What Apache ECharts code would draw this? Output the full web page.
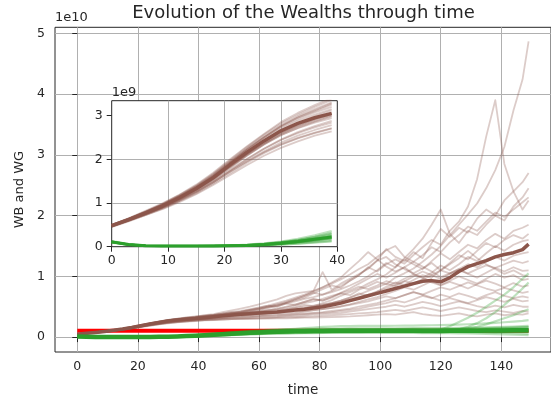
<!DOCTYPE html>
<html>
<head>
<meta charset="utf-8">
<script src="https://cdn.jsdelivr.net/npm/echarts@6/dist/echarts.min.js"></script>
<style>
  html, body { margin: 0; padding: 0; background: #fff; }
  #chart { width: 551px; height: 402px; }
</style>
</head>
<body>
<div id="chart"></div>
<script>
// Sample times shared by every run
const times = [0,3,6,9,12,15,18,21,24,27,30,33,36,39,
  42,45,48,51,54,57,60,63,66,69,72,75,78,81,
  84,87,90,93,96,99,102,105,108,111,114,117,120,123,
  126,129,132,135,138,141,144,147,149];

// WB runs, values in units of 1e9
const wb01 = [0.49,0.64,0.80,0.97,1.16,1.38,1.64,1.95,2.25,2.52,2.78,2.98,3.15,3.3,
  3.5,3.6,3.9,4.1,4.0,4.3,4.6,4.9,5.1,5.5,5.3,5.8,6.2,6.0,
  6.5,7.2,6.9,7.8,8.4,9.1,8.7,9.8,10.5,11.3,12.4,13.6,15.0,16.8,
  18.5,20.2,22.0,24.5,27.5,31.3,37.3,42.4,48.7];
const wb02 = [0.47,0.61,0.76,0.92,1.10,1.31,1.55,1.84,2.12,2.38,2.60,2.78,2.92,3.02,
  3.2,3.4,3.6,3.9,4.2,4.5,4.8,5.2,5.0,5.6,6.1,6.5,7.2,7.9,
  8.5,8.1,9.3,10.2,11.5,10.8,12.0,12.8,12.1,13.5,14.8,16.0,15.2,17.5,
  19.0,21.5,26.0,33.0,39.0,28.5,24.0,21.0,22.5];
const wb03 = [0.50,0.65,0.81,0.98,1.18,1.40,1.67,1.98,2.28,2.56,2.82,3.02,3.2,3.36,
  3.6,3.8,4.1,4.4,4.7,5.0,5.4,5.8,6.2,6.8,7.2,7.4,7.6,10.7,
  7.8,8.8,9.6,10.4,11.2,12.6,14.5,13.2,12.5,14.0,13.0,15.5,17.8,16.5,
  18.0,17.2,19.5,21.0,20.0,22.5,24.0,25.5,27.0];
const wb04 = [0.49,0.63,0.79,0.95,1.14,1.36,1.62,1.92,2.22,2.5,2.75,2.95,3.1,3.25,
  3.45,3.6,3.8,4.0,4.2,4.5,4.7,5.0,5.3,5.6,5.9,6.3,6.6,7.0,
  7.4,7.9,8.5,9.2,10.0,11.0,12.2,11.5,13.0,14.5,16.2,18.5,21.0,17.0,
  15.5,17.5,16.8,18.5,20.0,19.2,21.5,23.0,24.5];
const wb05 = [0.48,0.62,0.78,0.94,1.13,1.35,1.61,1.92,2.22,2.5,2.76,2.96,3.12,3.28,
  3.45,3.65,3.85,4.1,4.3,4.6,4.9,5.2,5.6,6.0,6.5,7.0,7.6,8.2,
  8.8,9.5,10.3,11.2,12.0,13.2,14.3,15.0,13.2,12.4,13.5,14.8,14.0,15.6,
  16.8,18.2,17.5,19.0,20.5,19.8,21.0,22.2,23.0];
const wb06 = [0.47,0.6,0.75,0.9,1.08,1.28,1.52,1.8,2.08,2.34,2.55,2.72,2.86,2.98,
  3.1,3.25,3.4,3.6,3.7,3.9,4.1,4.0,4.3,4.6,4.9,5.3,5.1,5.6,
  6.1,6.8,7.4,8.0,8.8,9.5,10.3,11.5,12.8,12.0,11.2,12.5,13.8,12.8,
  14.0,15.2,14.6,16.0,17.0,16.2,17.5,18.0,18.5];
const wb07 = [0.5,0.64,0.8,0.96,1.15,1.36,1.6,1.88,2.15,2.4,2.62,2.8,2.94,3.06,
  3.2,3.3,3.45,3.6,3.7,3.8,3.9,4.0,4.2,4.3,4.5,4.7,4.9,5.2,
  5.6,6.0,6.5,7.2,6.8,7.5,8.3,9.0,8.6,9.4,10.2,9.8,11.0,12.2,
  13.5,12.8,14.2,15.5,14.8,16.0,16.8,16.2,17.0];
const wb08 = [0.48,0.62,0.77,0.93,1.11,1.31,1.55,1.84,2.12,2.37,2.58,2.75,2.88,3.0,
  3.15,3.3,3.5,3.7,3.9,4.2,4.5,4.8,5.2,5.7,6.2,6.8,7.5,8.2,
  9.0,9.8,11.2,12.5,14.0,12.8,11.6,10.8,11.5,10.4,9.8,10.6,11.8,11.0,
  12.0,13.2,12.5,13.8,15.0,14.2,15.2,15.8,16.0];
const wb09 = [0.46,0.59,0.73,0.88,1.05,1.24,1.47,1.74,2.0,2.24,2.45,2.62,2.76,2.88,
  3.0,3.15,3.3,3.45,3.55,3.7,3.8,3.95,4.1,4.3,4.5,4.75,5.0,5.3,
  5.6,6.0,6.5,7.0,7.6,8.2,8.8,8.4,9.2,10.0,10.8,10.2,11.0,10.5,
  11.2,12.0,11.5,12.4,13.2,12.6,13.4,13.8,14.0];
const wb10 = [0.5,0.65,0.82,0.99,1.19,1.42,1.69,2.0,2.3,2.58,2.85,3.06,3.24,3.4,
  3.55,3.65,3.8,3.9,4.0,4.1,4.2,4.35,4.5,4.6,4.8,5.0,5.2,5.4,
  5.6,5.9,6.2,6.6,7.0,7.5,8.0,8.6,9.2,8.8,9.5,10.2,9.6,10.4,
  11.0,10.5,11.2,11.8,11.4,12.0,12.6,12.2,12.5];
const wb11 = [0.47,0.61,0.76,0.92,1.1,1.31,1.56,1.86,2.14,2.4,2.64,2.83,2.98,3.12,
  3.3,3.45,3.6,3.8,3.95,4.1,4.3,4.5,4.7,5.0,5.4,5.8,6.3,6.0,
  6.6,7.3,8.0,8.8,9.6,10.4,9.8,10.6,11.5,12.4,11.6,10.8,9.9,10.5,
  11.2,10.4,9.8,10.6,11.4,10.8,11.5,10.9,11.0];
const wb12 = [0.49,0.63,0.78,0.94,1.12,1.32,1.56,1.83,2.1,2.34,2.55,2.71,2.84,2.94,
  3.05,3.15,3.25,3.35,3.45,3.5,3.6,3.7,3.8,3.9,4.0,4.2,4.4,4.6,
  4.8,5.1,5.4,5.8,6.2,6.6,7.1,7.6,8.2,7.8,8.5,9.2,8.6,9.3,
  10.0,9.4,8.8,9.6,10.4,9.8,10.2,9.4,9.6];
const wb13 = [0.46,0.6,0.75,0.9,1.08,1.29,1.53,1.82,2.09,2.35,2.58,2.76,2.91,3.04,
  3.2,3.35,3.5,3.7,3.85,4.0,4.2,4.4,4.6,4.9,5.2,5.6,5.9,6.3,
  6.8,7.2,7.7,8.3,7.9,8.5,9.2,8.8,9.6,10.3,9.8,9.0,8.5,9.1,
  8.6,8.0,8.7,9.3,8.8,8.2,8.9,8.3,8.5];
const wb14 = [0.48,0.61,0.76,0.91,1.08,1.27,1.5,1.76,2.01,2.24,2.44,2.6,2.73,2.84,
  2.95,3.05,3.15,3.25,3.3,3.4,3.45,3.55,3.6,3.7,3.8,3.9,4.0,4.1,
  4.3,4.5,4.7,5.0,5.3,5.6,6.0,6.4,6.9,7.4,7.0,7.6,8.2,7.8,
  8.4,9.0,8.5,8.0,7.6,8.1,7.7,7.3,7.5];
const wb15 = [0.47,0.6,0.74,0.89,1.06,1.25,1.47,1.72,1.96,2.18,2.38,2.54,2.67,2.78,
  2.9,3.0,3.1,3.2,3.25,3.3,3.4,3.45,3.5,3.6,3.7,3.8,3.9,4.0,
  4.1,4.3,4.5,4.7,5.0,5.3,5.6,6.0,5.7,6.2,6.8,6.4,7.0,6.6,
  7.2,6.8,6.3,6.9,7.4,6.8,6.4,6.7,6.5];
const wb16 = [0.5,0.64,0.79,0.96,1.15,1.37,1.63,1.93,2.21,2.46,2.7,2.88,3.02,3.15,
  3.3,3.4,3.5,3.6,3.7,3.75,3.8,3.9,4.0,4.1,4.2,4.3,4.45,4.6,
  4.8,5.0,5.3,5.6,5.9,6.3,6.7,6.4,6.9,7.4,7.0,6.5,6.0,6.4,
  6.0,5.6,6.1,6.6,6.2,5.8,6.3,5.9,6.0];
const wb17 = [0.46,0.59,0.73,0.87,1.04,1.22,1.44,1.68,1.92,2.14,2.33,2.48,2.6,2.7,
  2.8,2.9,3.0,3.05,3.1,3.15,3.2,3.25,3.3,3.4,3.5,3.6,3.7,3.8,
  3.9,4.0,4.2,4.4,4.6,4.8,5.0,5.3,5.0,5.4,5.8,5.5,5.1,5.5,
  5.9,5.5,5.1,4.8,5.2,4.9,5.3,5.0,5.0];
const wb18 = [0.45,0.58,0.72,0.86,1.02,1.2,1.41,1.64,1.87,2.08,2.26,2.41,2.54,2.64,
  2.74,2.82,2.9,2.95,3.0,3.05,3.1,3.15,3.2,3.25,3.3,3.35,3.4,3.5,
  3.6,3.7,3.8,3.9,4.0,4.1,4.3,4.5,4.3,4.6,4.9,4.6,4.3,4.6,
  4.9,4.6,4.3,4.1,4.4,4.2,4.0,4.3,4.2];
const wb19 = [0.47,0.6,0.75,0.9,1.07,1.26,1.48,1.72,1.95,2.16,2.34,2.49,2.61,2.71,
  2.8,2.85,2.9,2.95,3.0,3.0,3.05,3.05,3.1,3.1,3.15,3.2,3.2,3.25,
  3.3,3.35,3.4,3.5,3.6,3.7,3.8,3.7,3.9,4.1,3.8,3.6,3.5,3.7,
  3.9,3.6,3.4,3.7,3.9,3.6,3.8,3.7,3.9];
const wb20 = [0.49,0.64,0.8,0.97,1.17,1.39,1.65,1.95,2.24,2.5,2.74,2.92,3.07,3.2,
  3.35,3.5,3.7,3.9,4.1,4.4,4.7,5.0,5.4,5.8,6.3,6.8,7.3,7.0,
  7.6,8.4,9.3,10.2,11.4,12.6,13.2,12.0,11.2,10.5,11.3,12.2,11.0,12.0,
  13.0,14.2,13.0,12.0,11.2,10.4,11.0,10.2,10.0];
const wbMean = [0.48,0.62,0.77,0.93,1.12,1.33,1.58,1.88,2.16,2.42,2.65,2.82,2.95,3.05,
  3.2,3.35,3.5,3.65,3.75,3.85,3.95,4.05,4.15,4.3,4.45,4.6,4.8,5.0,
  5.3,5.6,6.0,6.4,6.8,7.2,7.6,8.0,8.4,8.8,9.2,9.3,9.1,9.8,
  10.8,11.6,12.1,12.6,13.2,13.6,13.9,14.4,15.3];

// WG runs, values in units of 1e9
const wg01 = [0.12,0.05,0.02,0.01,0.01,0.01,0.01,0.015,0.02,0.03,0.05,0.07,0.1,0.13,
  0.18,0.24,0.3,0.36,0.42,0.48,0.53,0.57,0.6,0.62,0.64,0.66,0.67,0.68,
  0.69,0.7,0.7,0.71,0.71,0.7,0.7,0.69,0.68,0.68,0.67,0.66,0.65,0.64,
  0.62,0.6,0.57,0.54,0.5,0.46,0.42,0.36,0.32];
const wg02 = [0.1,0.05,0.02,0.015,0.015,0.015,0.02,0.025,0.04,0.06,0.1,0.15,0.22,0.3,
  0.4,0.5,0.6,0.7,0.8,0.88,0.95,1.02,1.08,1.12,1.15,1.18,1.2,1.22,
  1.23,1.24,1.25,1.26,1.26,1.27,1.27,1.28,1.28,1.29,1.3,1.3,1.31,1.32,
  1.34,1.36,1.38,1.41,1.44,1.48,1.52,1.58,1.62];
const wg03 = [0.11,0.04,0.02,0.015,0.015,0.015,0.015,0.02,0.03,0.04,0.07,0.1,0.14,0.19,
  0.26,0.33,0.4,0.48,0.56,0.62,0.68,0.74,0.79,0.83,0.86,0.89,0.91,0.93,
  0.94,0.95,0.96,0.96,0.96,0.95,0.95,0.94,0.94,0.93,0.93,0.92,0.92,0.92,
  0.93,0.93,0.94,0.95,0.96,0.97,0.98,1.0,1.01];
const wg04 = [0.13,0.06,0.03,0.02,0.02,0.02,0.02,0.03,0.05,0.08,0.12,0.18,0.26,0.36,
  0.48,0.6,0.72,0.84,0.95,1.05,1.13,1.2,1.26,1.3,1.33,1.36,1.38,1.4,
  1.41,1.42,1.43,1.44,1.44,1.45,1.45,1.46,1.46,1.47,1.47,1.48,1.49,1.5,
  1.52,1.55,1.58,1.62,1.66,1.7,1.74,1.8,1.85];
const wg05 = [0.09,0.04,0.02,0.01,0.01,0.01,0.01,0.015,0.02,0.03,0.045,0.065,0.09,0.12,
  0.16,0.21,0.27,0.33,0.39,0.45,0.5,0.55,0.59,0.62,0.65,0.68,0.7,0.72,
  0.74,0.76,0.78,0.79,0.8,0.81,0.82,0.82,0.83,0.83,0.84,0.84,0.85,0.85,
  0.86,0.86,0.87,0.88,0.88,0.89,0.9,0.9,0.91];
const wg06 = [0.12,0.05,0.025,0.02,0.02,0.02,0.02,0.025,0.035,0.055,0.09,0.13,0.19,0.26,
  0.34,0.43,0.52,0.61,0.69,0.77,0.84,0.9,0.95,0.99,1.02,1.05,1.08,1.1,
  1.12,1.13,1.14,1.15,1.15,1.16,1.16,1.16,1.16,1.17,1.17,1.17,1.18,1.19,
  1.2,1.22,1.24,1.26,1.29,1.32,1.35,1.39,1.42];
const wg07 = [0.1,0.04,0.02,0.015,0.015,0.015,0.015,0.02,0.025,0.04,0.06,0.09,0.12,0.16,
  0.22,0.28,0.35,0.42,0.49,0.56,0.62,0.67,0.72,0.76,0.8,0.83,0.85,0.87,
  0.88,0.89,0.9,0.9,0.9,0.9,0.89,0.88,0.87,0.86,0.85,0.84,0.83,0.82,
  0.8,0.78,0.76,0.74,0.71,0.68,0.65,0.61,0.58];
const wg08 = [0.11,0.05,0.02,0.015,0.015,0.015,0.02,0.025,0.035,0.05,0.085,0.13,0.18,0.24,
  0.32,0.41,0.5,0.59,0.67,0.74,0.8,0.86,0.91,0.95,0.98,1.01,1.03,1.05,
  1.06,1.07,1.08,1.08,1.09,1.09,1.09,1.09,1.09,1.1,1.1,1.1,1.11,1.12,
  1.13,1.14,1.16,1.18,1.2,1.23,1.26,1.3,1.33];
const wg09 = [0.12,0.05,0.02,0.015,0.015,0.015,0.015,0.02,0.03,0.045,0.075,0.11,0.16,0.21,
  0.28,0.36,0.44,0.52,0.6,0.67,0.73,0.79,0.84,0.88,0.91,0.94,0.96,0.98,
  0.99,1.0,1.01,1.01,1.01,1.01,1.0,1.0,0.99,0.99,0.98,0.98,0.97,0.97,
  0.96,0.95,0.94,0.93,0.92,0.9,0.88,0.86,0.84];
const wg10 = [0.1,0.05,0.02,0.015,0.015,0.015,0.02,0.03,0.045,0.07,0.11,0.16,0.23,0.32,
  0.43,0.54,0.65,0.76,0.86,0.95,1.03,1.1,1.15,1.19,1.22,1.25,1.27,1.29,
  1.3,1.31,1.32,1.32,1.33,1.33,1.34,1.34,1.35,1.35,1.36,1.36,1.37,1.38,
  1.4,1.42,1.45,1.48,1.52,1.56,1.6,1.65,1.7];
const wg11 = [0.11,0.05,0.02,0.015,0.015,0.015,0.02,0.025,0.035,0.055,0.09,0.13,0.18,0.24,
  0.32,0.41,0.5,0.59,0.68,0.76,0.83,0.89,0.94,0.98,1.02,1.05,1.08,1.1,
  1.12,1.14,1.15,1.16,1.17,1.18,1.19,1.2,1.2,1.21,1.22,1.22,1.25,1.8,
  2.5,3.2,4.0,5.0,6.0,7.0,8.2,9.6,10.5];
const wg12 = [0.12,0.05,0.02,0.015,0.015,0.015,0.015,0.02,0.03,0.045,0.075,0.11,0.15,0.2,
  0.27,0.35,0.43,0.51,0.59,0.66,0.72,0.78,0.83,0.87,0.9,0.93,0.96,0.98,
  1.0,1.02,1.03,1.04,1.05,1.06,1.07,1.08,1.09,1.1,1.12,1.14,1.16,1.18,
  1.3,1.7,2.3,3.1,4.1,5.3,6.6,8.0,9.0];
const wg13 = [0.1,0.04,0.02,0.015,0.015,0.015,0.015,0.02,0.03,0.045,0.07,0.1,0.14,0.19,
  0.25,0.32,0.4,0.48,0.55,0.62,0.68,0.74,0.79,0.83,0.87,0.9,0.93,0.95,
  0.97,0.99,1.0,1.01,1.02,1.03,1.04,1.05,1.06,1.07,1.09,1.12,1.16,1.22,
  1.3,1.45,1.7,2.1,2.6,3.1,3.6,4.2,4.6];
const wg14 = [0.11,0.05,0.025,0.02,0.02,0.02,0.02,0.025,0.04,0.06,0.1,0.15,0.21,0.28,
  0.37,0.47,0.57,0.67,0.77,0.87,0.97,1.07,1.17,1.27,1.37,1.47,1.57,1.67,
  1.75,1.8,1.82,1.84,1.85,1.86,1.86,1.87,1.88,1.9,1.92,1.95,1.98,2.02,
  2.06,2.12,2.18,2.25,2.35,2.45,2.55,2.68,2.8];
const wgMean = [0.11,0.05,0.02,0.015,0.015,0.015,0.015,0.02,0.03,0.05,0.08,0.12,0.17,0.22,
  0.3,0.38,0.46,0.55,0.63,0.7,0.77,0.83,0.88,0.92,0.95,0.98,1.0,1.02,
  1.03,1.04,1.05,1.05,1.05,1.05,1.04,1.04,1.03,1.03,1.02,1.02,1.02,1.03,
  1.04,1.05,1.06,1.07,1.08,1.1,1.12,1.14,1.15];

// Reference level (1e9)
const refTimes = [0, 149];
const refLevel = [1.05, 1.05];

// Axis ticks
const mainXTicks = [0, 20, 40, 60, 80, 100, 120, 140];
const mainYTicks = [0, 10, 20, 30, 40, 50];
const mainYLabels = ['0', '1', '2', '3', '4', '5'];
const insetXTicks = [0, 10, 20, 30, 40];
const insetYTicks = [0, 1, 2, 3];
const insetYLabels = ['0', '1', '2', '3'];

const titleText = 'Evolution of the Wealths through time';
const xName = 'time';
const yName = 'WB and WG';

const wbRuns = [wb01, wb02, wb03, wb04, wb05, wb06, wb07, wb08, wb09, wb10,
  wb11, wb12, wb13, wb14, wb15, wb16, wb17, wb18, wb19, wb20];
const wgRuns = [wg01, wg02, wg03, wg04, wg05, wg06, wg07, wg08, wg09, wg10,
  wg11, wg12, wg13, wg14];

const FONT = 'DejaVu Sans';
const INK = '#262626';
const GRIDLINE = '#b0b0b0';
const BROWN = '#8c564b';
const GREEN = '#2ca02c';
const RED = '#ff0000';

// One polyline per run; the inset only shows the first 40 time units
function runSeries(values, o) {
  const pts = [];
  for (let i = 0; i < values.length; i++) {
    if (o.upTo !== undefined && times[i] > o.upTo) break;
    pts.push([times[i], values[i]]);
  }
  return {
    type: 'line', xAxisIndex: o.axis, yAxisIndex: o.axis,
    data: pts, showSymbol: false, symbol: 'none', silent: true, z: o.z,
    clip: true, animation: false,
    emphasis: { disabled: true },
    lineStyle: { color: o.color, width: o.width, opacity: o.opacity, join: 'round', cap: 'butt' }
  };
}

const series = [];
// main panel
series.push({
  type: 'line', xAxisIndex: 0, yAxisIndex: 0, silent: true, z: 2, showSymbol: false, symbol: 'none',
  data: refTimes.map((t, i) => [t, refLevel[i]]), animation: false, emphasis: { disabled: true },
  lineStyle: { color: RED, width: 4, opacity: 1, cap: 'butt' }
});
wbRuns.forEach(r => series.push(runSeries(r, { axis: 0, color: BROWN, width: 1.8, opacity: 0.3, z: 2 })));
series.push(runSeries(wbMean, { axis: 0, color: BROWN, width: 3.5, opacity: 1, z: 2 }));
wgRuns.forEach(r => series.push(runSeries(r, { axis: 0, color: GREEN, width: 2.2, opacity: 0.3, z: 2 })));
series.push(runSeries(wgMean, { axis: 0, color: GREEN, width: 4.5, opacity: 1, z: 2 }));
// inset panel
wbRuns.forEach(r => series.push(runSeries(r, { axis: 1, upTo: 39, color: BROWN, width: 1.8, opacity: 0.3, z: 12 })));
series.push(runSeries(wbMean, { axis: 1, upTo: 39, color: BROWN, width: 3.5, opacity: 1, z: 12 }));
wgRuns.forEach(r => series.push(runSeries(r, { axis: 1, upTo: 39, color: GREEN, width: 2, opacity: 0.3, z: 12 })));
series.push(runSeries(wgMean, { axis: 1, upTo: 39, color: GREEN, width: 3, opacity: 1, z: 12 }));

const tickLabel = { fontFamily: FONT, fontSize: 12.5, color: INK };

const option = {
  animation: false,
  backgroundColor: '#fff',
  grid: [
    { left: 55, top: 27.3, width: 497, height: 326.7, show: true, borderColor: INK, borderWidth: 1,
      backgroundColor: 'transparent', containLabel: false, z: 0 },
    { left: 111.7, top: 100.7, width: 225.6, height: 146, show: true, borderColor: INK, borderWidth: 1,
      backgroundColor: '#fff', containLabel: false, z: 10 }
  ],
  xAxis: [
    { gridIndex: 0, type: 'value', min: -7.35, max: 156.4,
      axisLine: { show: false },
      axisTick: { show: true, length: 5, customValues: mainXTicks, lineStyle: { color: INK, width: 1 } },
      axisLabel: Object.assign({ customValues: mainXTicks, margin: 8 }, tickLabel),
      splitLine: { show: true, lineStyle: { color: GRIDLINE, width: 1 } },
      name: xName, nameLocation: 'middle', nameGap: 31,
      nameTextStyle: { fontFamily: FONT, fontSize: 13.5, color: INK } },
    { gridIndex: 1, type: 'value', min: 0, max: 40, z: 11,
      axisLine: { show: false },
      axisTick: { show: true, length: 5, customValues: insetXTicks, lineStyle: { color: INK, width: 1 } },
      axisLabel: Object.assign({ customValues: insetXTicks, margin: 8 }, tickLabel),
      splitLine: { show: true, showMinLine: false, showMaxLine: false, lineStyle: { color: GRIDLINE, width: 1 } } }
  ],
  yAxis: [
    { gridIndex: 0, type: 'value', min: -2.45, max: 51.0,
      axisLine: { show: false },
      axisTick: { show: true, length: 5, customValues: mainYTicks, lineStyle: { color: INK, width: 1 } },
      axisLabel: Object.assign({ customValues: mainYTicks, margin: 10,
        formatter: v => mainYLabels[mainYTicks.indexOf(v)] }, tickLabel),
      splitLine: { show: true, lineStyle: { color: GRIDLINE, width: 1 } },
      name: yName, nameLocation: 'middle', nameGap: 28, nameRotate: 90,
      nameTextStyle: { fontFamily: FONT, fontSize: 13, color: INK } },
    { gridIndex: 1, type: 'value', min: 0, max: 3.34, z: 11,
      axisLine: { show: false },
      axisTick: { show: true, length: 5, customValues: insetYTicks, lineStyle: { color: INK, width: 1 } },
      axisLabel: Object.assign({ customValues: insetYTicks, margin: 9,
        formatter: v => insetYLabels[insetYTicks.indexOf(v)] }, tickLabel),
      splitLine: { show: true, showMinLine: false, showMaxLine: false, lineStyle: { color: GRIDLINE, width: 1 } } }
  ],
  graphic: [
    { type: 'text', x: 303.5, y: 13.5, z: 30,
      style: { text: titleText, fontFamily: FONT, fontSize: 18, fill: INK, align: 'center', verticalAlign: 'middle' } },
    { type: 'text', x: 55, y: 18, z: 30,
      style: { text: '1e10', fontFamily: FONT, fontSize: 13, fill: INK, align: 'left', verticalAlign: 'middle' } },
    { type: 'text', x: 111.7, y: 93, z: 30,
      style: { text: '1e9', fontFamily: FONT, fontSize: 13, fill: INK, align: 'left', verticalAlign: 'middle' } }
  ],
  series: series
};

const chart = echarts.init(document.getElementById('chart'), null, { renderer: 'canvas' });
chart.setOption(option);
</script>
</body>
</html>
